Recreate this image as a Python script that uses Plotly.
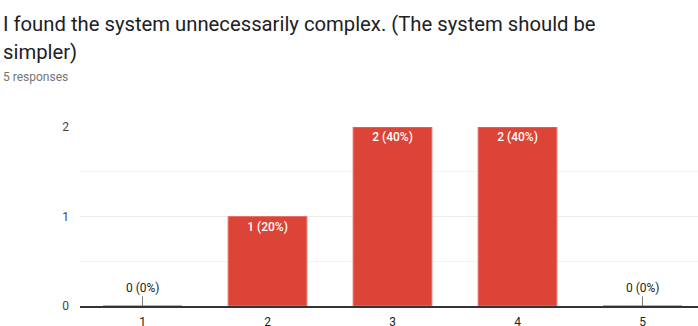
import plotly.graph_objects as go

categories = ["1", "2", "3", "4", "5"]
counts = [0, 1, 2, 2, 0]
y_ticks = [0, 1, 2]
title_lines = ["I found the system unnecessarily complex. (The system should be", "simpler)"]
subtitle = "5 responses"

W, H = 698, 326
ML, MR, MT, MB = 80, 0, 127, 20
PW, PH = W - ML - MR, H - MT - MB


def px_to_paper(px, py):
    return (px - ML) / PW, 1 - (py - MT) / PH


total = sum(counts)
labels = [f"{c} ({c / total * 100:.0f}%)" for c in counts]

fig = go.Figure()
fig.add_trace(go.Bar(
    x=categories,
    y=counts,
    text=[l if c > 0 else "" for l, c in zip(labels, counts)],
    textposition="inside",
    insidetextanchor="end",
    textfont=dict(family="Roboto", size=12, color="white", weight=500),
    marker=dict(color="#db4437", line=dict(color="#e8736a", width=1)),
    width=0.63,
    hoverinfo="skip",
))

for i, (c, l) in enumerate(zip(counts, labels)):
    if c == 0:
        fig.add_annotation(
            x=i, y=0, xref="x", yref="y", text=l,
            showarrow=True, arrowhead=0, arrowwidth=1, arrowcolor="#777",
            ax=0, ay=-18, font=dict(family="Roboto", size=12, color="#222"),
            borderpad=1,
        )

for text, py, size, color in [
    (title_lines[0], 24, 20.25, "#202124"),
    (title_lines[1], 52, 20.25, "#202124"),
    (subtitle, 77, 12, "#757575"),
]:
    xp, yp = px_to_paper(1, py)
    fig.add_annotation(xref="paper", yref="paper", x=xp, y=yp,
                       xanchor="left", yanchor="middle", text=text, showarrow=False,
                       font=dict(family="Roboto", size=size, color=color))

fig.update_layout(
    width=W, height=H,
    margin=dict(l=ML, r=MR, t=MT, b=MB),
    paper_bgcolor="white", plot_bgcolor="white",
    showlegend=False,
    font=dict(family="Roboto", size=12, color="#444"),
    xaxis=dict(
        type="category",
        range=[-0.5, 4.444],
        showline=True, linecolor="#333", linewidth=1.5,
        showgrid=False, ticks="",
        ticklabelstandoff=4,
        automargin=False,
        tickfont=dict(family="Roboto", size=12, color="#222"),
    ),
    yaxis=dict(
        range=[0, 2],
        tickvals=y_ticks,
        showgrid=True, gridcolor="#ebebeb", gridwidth=1,
        zeroline=False,
        automargin=False,
        minor=dict(dtick=0.5, showgrid=True, gridcolor="#f3f3f3"),
        ticklabelstandoff=10,
        tickfont=dict(family="Roboto", size=12, color="#444"),
    ),
)

fig.write_html("out.html")
